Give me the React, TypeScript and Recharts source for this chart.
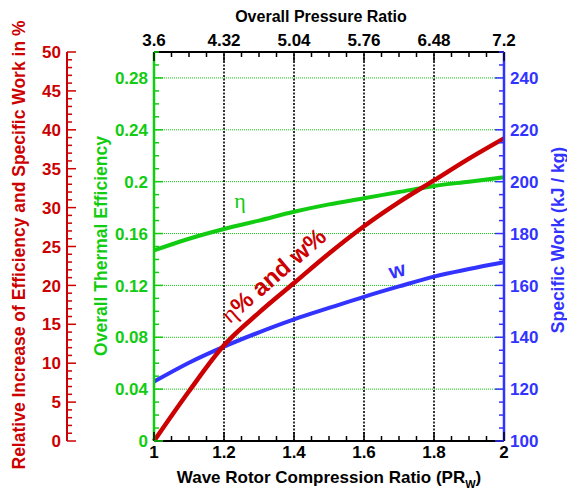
import { ComposedChart, Line, XAxis, YAxis, ReferenceLine, ReferenceDot } from 'recharts';

// wave rotor compression ratio (bottom axis)
const prw = [1, 1.1, 1.2, 1.3, 1.4, 1.5, 1.6, 1.7, 1.8, 1.9, 2];
// overall thermal efficiency (green axis)
const thermalEff = [0.147, 0.156, 0.1635, 0.17, 0.1768, 0.1825, 0.1872, 0.192, 0.1967, 0.2, 0.2034];
// relative increase of efficiency and specific work, % (red axis)
const relIncrease = [0, 6.4, 12.3, 16.5, 20.3, 24.1, 27.6, 30.7, 33.5, 36.3, 38.9];
// specific work, kJ/kg (blue axis)
const specificWork = [122.9, 130.2, 136.4, 141.9, 146.9, 151.3, 155.6, 159.6, 163.4, 166.3, 168.9];

const bottomMajor = [1, 1.2, 1.4, 1.6, 1.8, 2];
const bottomLabels = ['1', '1.2', '1.4', '1.6', '1.8', '2'];
const topLabels = ['3.6', '4.32', '5.04', '5.76', '6.48', '7.2'];
const redMajor = [0, 5, 10, 15, 20, 25, 30, 35, 40, 45, 50];
const redLabels = ['0', '5', '10', '15', '20', '25', '30', '35', '40', '45', '50'];
const greenMajor = [0, 0.04, 0.08, 0.12, 0.16, 0.2, 0.24, 0.28];
const greenLabels = ['0', '0.04', '0.08', '0.12', '0.16', '0.2', '0.24', '0.28'];
const blueMajor = [100, 120, 140, 160, 180, 200, 220, 240];
const blueLabels = ['100', '120', '140', '160', '180', '200', '220', '240'];
const vGrid = [1.2, 1.4, 1.6, 1.8];
const hGrid = [0.04, 0.08, 0.12, 0.16, 0.2, 0.24, 0.28];

const data = prw.map((x, i) => ({
  x,
  eta: thermalEff[i],
  rel: relIncrease[i],
  w: specificWork[i],
}));

const RED = '#cc0000';
const GREEN = '#11cc11';
const BLUE = '#3333ff';
const INK = '#000000';
const FONT = '"Liberation Sans", Arial, sans-serif';

// minor tick positions
function steps(from: number, to: number, step: number): number[] {
  const out: number[] = [];
  const n = Math.round((to - from) / step);
  for (let i = 0; i <= n; i++) out.push(+(from + i * step).toFixed(6));
  return out;
}

function majorIndex(v: number, majors: number[]) {
  return majors.findIndex((m) => Math.abs(m - v) < 1e-6);
}

type Side = 'left' | 'right' | 'top' | 'bottom';

function AxisTick(props: any) {
  const { x, y, payload, side, color, majors, labels } = props as {
    x: number; y: number; payload: { value: number }; side: Side; color: string; majors: number[]; labels: string[];
  };
  const idx = majorIndex(payload.value, majors);
  const len = idx >= 0 ? 9 : 5;
  const label = idx >= 0 ? labels[idx] : null;
  const textProps = { fill: color, fontFamily: FONT, fontWeight: 700, fontSize: 17 };
  if (side === 'left') {
    return (
      <g>
        <line x1={x} x2={x + len} y1={y} y2={y} stroke={color} strokeWidth={1.5} />
        {label && <text x={x - 6} y={y} dy="0.36em" textAnchor="end" {...textProps}>{label}</text>}
      </g>
    );
  }
  if (side === 'right') {
    return (
      <g>
        <line x1={x} x2={x - len} y1={y} y2={y} stroke={color} strokeWidth={1.5} />
        {label && <text x={x + 6} y={y} dy="0.36em" textAnchor="start" {...textProps}>{label}</text>}
      </g>
    );
  }
  if (side === 'top') {
    return (
      <g>
        <line x1={x} x2={x} y1={y} y2={y + len} stroke={color} strokeWidth={1.5} />
        {label && <text x={x} y={y - 6} textAnchor="middle" {...textProps}>{label}</text>}
      </g>
    );
  }
  return (
    <g>
      <line x1={x} x2={x} y1={y} y2={y - len} stroke={color} strokeWidth={1.5} />
      {label && <text x={x} y={y + 17} textAnchor="middle" {...textProps}>{label}</text>}
    </g>
  );
}

function VTitle({ viewBox, text, color, dx, cy }: any) {
  const x = viewBox.x + dx;
  return (
    <text
      x={x}
      y={cy}
      transform={`rotate(-90, ${x}, ${cy})`}
      textAnchor="middle"
      fill={color}
      fontFamily={FONT}
      fontWeight={700}
      fontSize={17.5}
    >
      {text}
    </text>
  );
}

function BottomTitle({ viewBox }: any) {
  const cx = viewBox.x + viewBox.width / 2;
  return (
    <text x={cx} y={483} textAnchor="middle" fill={INK} fontFamily={FONT} fontWeight={700} fontSize={17}>
      Wave Rotor Compression Ratio (PR
      <tspan fontSize={11} dy={5}>W</tspan>
      <tspan dy={-5}>)</tspan>
    </text>
  );
}

function TopTitle({ viewBox }: any) {
  const cx = viewBox.x + viewBox.width / 2 - 8;
  return (
    <text x={cx} y={22} textAnchor="middle" fill={INK} fontFamily={FONT} fontWeight={700} fontSize={16}>
      Overall Pressure Ratio
    </text>
  );
}

function EtaNote({ viewBox }: any) {
  return (
    <text x={viewBox.x} y={viewBox.y} fill={GREEN} fontFamily='"Liberation Serif", serif' fontSize={22}>
      η
    </text>
  );
}

function WNote({ viewBox }: any) {
  const { x, y } = viewBox;
  return (
    <text
      x={x}
      y={y}
      dy="0.35em"
      textAnchor="middle"
      transform={`rotate(-15, ${x}, ${y})`}
      fill={BLUE}
      fontFamily={FONT}
      fontWeight={700}
      fontSize={21}
    >
      w
    </text>
  );
}

function RelNote({ viewBox }: any) {
  const { x, y } = viewBox;
  return (
    <text
      x={x}
      y={y}
      dy="0.35em"
      textAnchor="middle"
      transform={`rotate(-41, ${x}, ${y})`}
      fill={RED}
      fontFamily={FONT}
      fontWeight={700}
      fontSize={24}
    >
      <tspan fontFamily='"Liberation Serif", serif' fontWeight={400}>η</tspan>% and w%
    </text>
  );
}

export default function App() {
  return (
    <div style={{ position: 'absolute', left: 0, top: 0, background: '#fff' }}>
      <ComposedChart width={567} height={492} data={data} margin={{ top: 0, right: 0, bottom: 0, left: 0 }}>
        <XAxis
          xAxisId="bottom"
          dataKey="x"
          type="number"
          domain={[1, 2]}
          ticks={steps(1, 2, 0.05)}
          interval={0}
          height={51}
          tickSize={0}
          tickMargin={0}
          axisLine={{ stroke: INK, strokeWidth: 2 }}
          tick={(p: any) => <AxisTick {...p} side="bottom" color={INK} majors={bottomMajor} labels={bottomLabels} />}
          label={<BottomTitle />}
        />
        <XAxis
          xAxisId="top"
          orientation="top"
          dataKey="x"
          type="number"
          domain={[1, 2]}
          ticks={steps(1, 2, 0.05)}
          interval={0}
          height={52}
          tickSize={0}
          tickMargin={0}
          axisLine={{ stroke: INK, strokeWidth: 2 }}
          tick={(p: any) => <AxisTick {...p} side="top" color={INK} majors={bottomMajor} labels={topLabels} />}
          label={<TopTitle />}
        />
        <YAxis
          yAxisId="green"
          type="number"
          domain={[0, 0.3]}
          ticks={steps(0, 0.3, 0.01)}
          interval={0}
          width={87}
          tickSize={0}
          tickMargin={0}
          axisLine={{ stroke: GREEN, strokeWidth: 2.5 }}
          tick={(p: any) => <AxisTick {...p} side="left" color={GREEN} majors={greenMajor} labels={greenLabels} />}
          label={<VTitle text="Overall Thermal Efficiency" color={GREEN} dx={40} cy={246} />}
        />
        <YAxis
          yAxisId="red"
          type="number"
          domain={[0, 50]}
          ticks={steps(0, 50, 1)}
          interval={0}
          width={67}
          tickSize={0}
          tickMargin={0}
          axisLine={{ stroke: RED, strokeWidth: 2 }}
          tick={(p: any) => <AxisTick {...p} side="left" color={RED} majors={redMajor} labels={redLabels} />}
          label={<VTitle text="Relative Increase of Efficiency and Specific Work in %" color={RED} dx={25} cy={245} />}
        />
        <YAxis
          yAxisId="blue"
          orientation="right"
          type="number"
          domain={[100, 250]}
          ticks={steps(100, 250, 5)}
          interval={0}
          width={63}
          tickSize={0}
          tickMargin={0}
          axisLine={{ stroke: BLUE, strokeWidth: 2.5 }}
          tick={(p: any) => <AxisTick {...p} side="right" color={BLUE} majors={blueMajor} labels={blueLabels} />}
          label={<VTitle text="Specific Work (kJ / kg)" color={BLUE} dx={60} cy={240} />}
        />

        {hGrid.map((v) => (
          <ReferenceLine key={`h${v}`} xAxisId="bottom" yAxisId="green" y={v} stroke={GREEN} strokeWidth={1} strokeDasharray="1 1" />
        ))}
        {vGrid.map((v) => (
          <ReferenceLine key={`v${v}`} xAxisId="bottom" yAxisId="green" x={v} stroke={INK} strokeWidth={1.6} strokeDasharray="2 1.5" />
        ))}

        <Line xAxisId="bottom" yAxisId="green" dataKey="eta" type="monotone" stroke={GREEN} strokeWidth={4} dot={false} isAnimationActive={false} />
        <Line xAxisId="bottom" yAxisId="blue" dataKey="w" type="monotone" stroke={BLUE} strokeWidth={4} dot={false} isAnimationActive={false} />
        <Line xAxisId="bottom" yAxisId="red" dataKey="rel" type="monotone" stroke={RED} strokeWidth={4.5} dot={false} isAnimationActive={false} />

        <ReferenceDot xAxisId="bottom" yAxisId="green" x={1.229} y={0.1797} r={0} fill="none" stroke="none" label={<EtaNote />} />
        <ReferenceDot xAxisId="bottom" yAxisId="blue" x={1.694} y={165.9} r={0} fill="none" stroke="none" label={<WNote />} />
        <ReferenceDot xAxisId="bottom" yAxisId="red" x={1.341} y={21.3} r={0} fill="none" stroke="none" label={<RelNote />} />
      </ComposedChart>
    </div>
  );
}
